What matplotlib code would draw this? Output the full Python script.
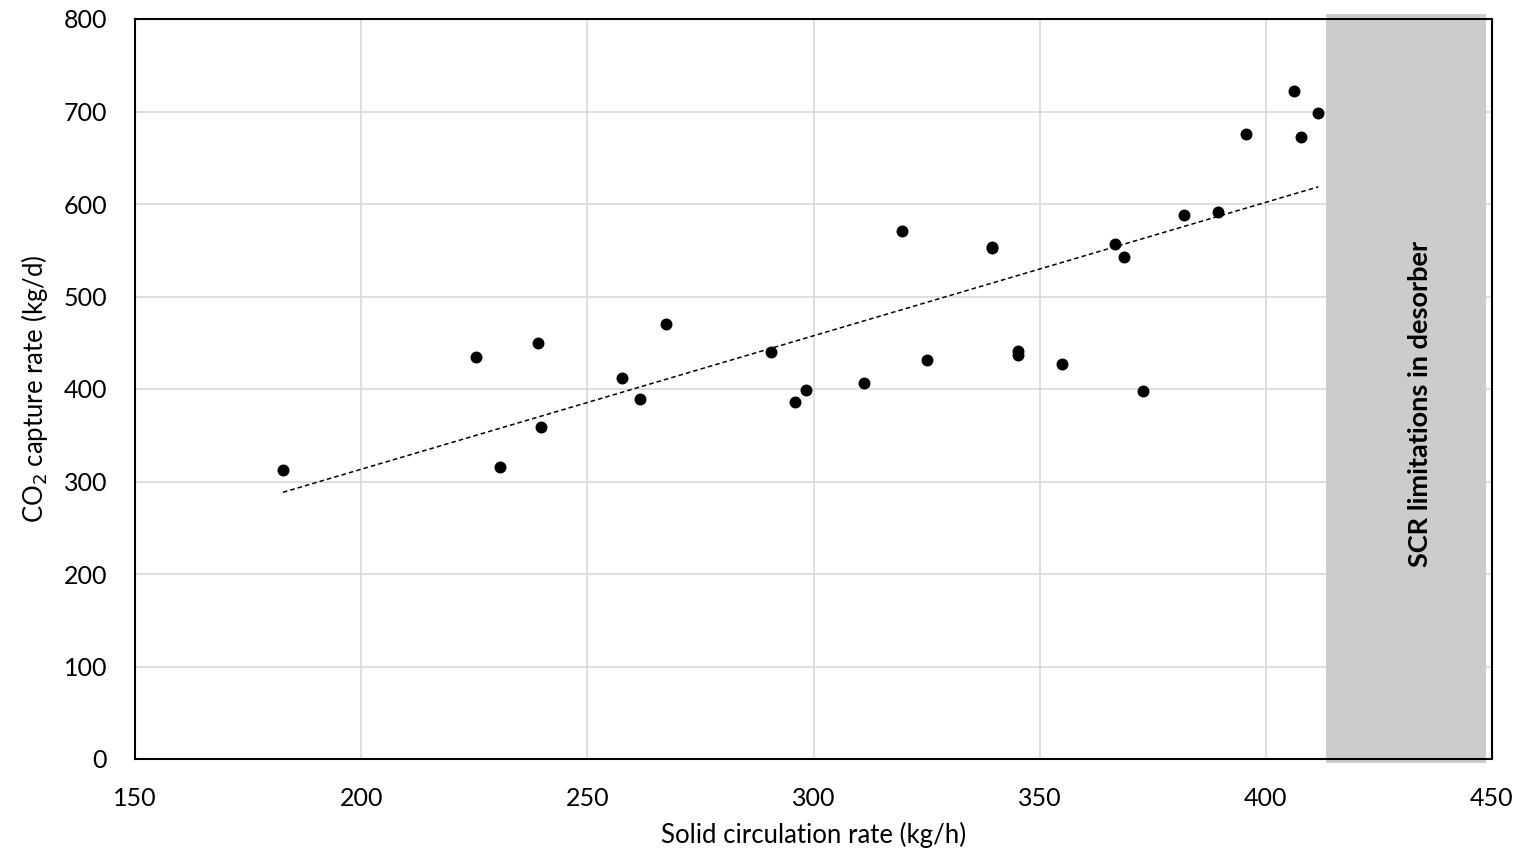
import numpy as np
import matplotlib
matplotlib.use("Agg")
import matplotlib.pyplot as plt
from matplotlib.patches import Rectangle

plt.rcParams['font.family'] = ['Lato', 'DejaVu Sans']

scr = [182.7, 225.3, 230.6, 239.0, 239.7, 257.6, 261.6, 267.5, 290.5, 295.8, 298.3,
       311.1, 319.5, 325.0, 339.4, 339.5, 345.1, 345.1, 355.0, 366.7, 368.7, 372.9,
       382.0, 389.5, 395.7, 406.3, 407.8, 411.6]
capture = [312, 435, 316, 450, 359, 412, 389, 470, 440, 386, 399,
           407, 571, 431, 554, 552, 441, 437, 427, 557, 543, 398,
           588, 591, 676, 722, 672, 698]
limit_region = [413.4, 448.7]
limit_label = "SCR limitations in desorber"

fig = plt.figure(figsize=(15.24, 8.56), dpi=100)
ax = fig.add_axes([135/1524, 1-759/856, (1492-135)/1524, (759-19)/856])

ax.set_xlim(150, 450)
ax.set_ylim(0, 800)
ax.set_xticks(np.arange(150, 451, 50))
ax.set_yticks(np.arange(0, 801, 100))
ax.grid(True, color='#d9d9d9', linewidth=1.2, zorder=0)
ax.set_axisbelow(True)
ax.tick_params(length=0, labelsize=18)
ax.tick_params(axis='x', pad=20)
ax.tick_params(axis='y', pad=20)

rect = Rectangle((limit_region[0], -4), limit_region[1]-limit_region[0], 809,
                 facecolor='#cccccc', edgecolor='none', zorder=1, clip_on=False)
ax.add_patch(rect)
ax.text(434.0, 384, limit_label, rotation=90,
        ha='center', va='center', fontsize=19.5, fontweight='bold', zorder=3)

ax.scatter(scr, capture, s=74, color='black', zorder=4, linewidths=0)

x = np.array(scr)
coef = np.polyfit(x, np.array(capture), 1)
xs = np.array([x.min(), x.max()])
ax.plot(xs, np.polyval(coef, xs), linestyle=(0, (3, 2)), color='black', linewidth=1.1, zorder=3)

for s in ax.spines.values():
    s.set_linewidth(1.5)
    s.set_zorder(5)

ax.set_xlabel("Solid circulation rate (kg/h)", fontsize=18.5, labelpad=9)
ax.set_ylabel("CO$_2$ capture rate (kg/d)", fontsize=18.5, labelpad=10)

fig.savefig("out.png", dpi=100)
